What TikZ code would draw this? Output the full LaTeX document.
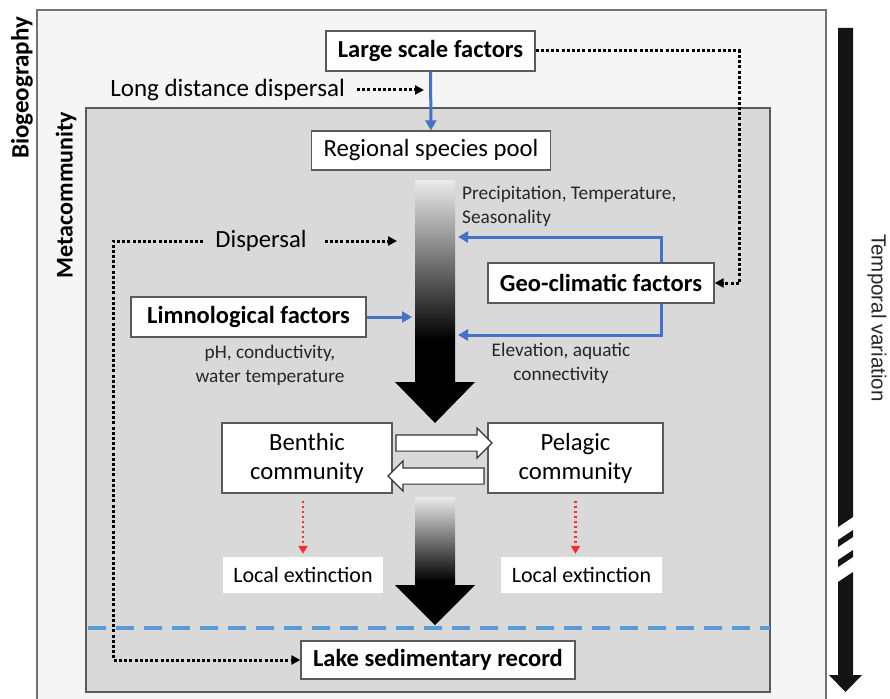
\documentclass[tikz,border=0pt]{standalone}
\usepackage{fontspec}
\setmainfont{Carlito}
\newfontfamily\arialfont{Liberation Sans}
\usetikzlibrary{arrows.meta,shapes.arrows,calc}

\definecolor{bioback}{HTML}{F5F5F5}
\definecolor{metaback}{HTML}{D9D9D9}
\definecolor{boxline}{HTML}{5A5A5A}
\definecolor{factorblue}{HTML}{4472C4}
\definecolor{lakeblue}{HTML}{5B9BD5}
\definecolor{lossred}{HTML}{FF2A2A}
\definecolor{notegray}{HTML}{262626}

\pgfdeclareverticalshading{flowshade}{100bp}{color(0bp)=(black); color(42bp)=(black); color(75bp)=(black!8); color(100bp)=(black!8)}

\tikzset{
	factorbox/.style={draw=boxline, line width=1.3pt, fill=white, inner sep=0pt, font=\bfseries\fontsize{24.5}{29}\selectfont},
	plainbox/.style={draw=boxline, line width=1.3pt, fill=white, inner sep=0pt, align=center, font=\fontsize{24.7}{29}\selectfont},
	lossbox/.style={fill=white, inner sep=0pt, font=\fontsize{22}{26}\selectfont},
	note/.style={inner sep=0pt, text=notegray, font=\fontsize{19.3}{24}\selectfont},
	bluearrow/.style={factorblue, line width=3pt, -{Triangle[length=10pt,width=11pt]}},
	dotarrow/.style={black, line width=3pt, dash pattern=on 3pt off 2.2pt, -{Triangle[length=9pt,width=9pt]}},
	lossarrow/.style={lossred, line width=2.8pt, dash pattern=on 2.8pt off 2.2pt, -{Triangle[length=8pt,width=9pt]}},
	hollowarrow/.style={single arrow, draw=black!80, line width=1.2pt, fill=white, inner xsep=0pt, inner ysep=7.5pt, single arrow head extend=7pt, single arrow head indent=0pt, minimum height=96pt}
}

\begin{document}
\begin{tikzpicture}[x=1pt, y=-1pt]
	\useasboundingbox (0,0) rectangle (890,698);
	% frames
	\draw[black!55, line width=1.8pt, fill=bioback] (37,10) rectangle (826,720);
	\draw[boxline, line width=1.8pt, fill=metaback] (86,108) rectangle (770,692);
	\node[rotate=90, inner sep=0pt, font=\bfseries\fontsize{25}{30}\selectfont] (bio) at (22,88) {Biogeography};
	\node[rotate=90, inner sep=0pt, font=\bfseries\fontsize{24}{29}\selectfont] (meta) at (66,195) {Metacommunity};

	% flow arrows
	\shade[shading=flowshade] (415,180) -- (455,180) -- (455,382) -- (475,382) -- (435,423) -- (395,382) -- (415,382) -- cycle;
	\shade[shading=flowshade] (415,497) -- (455,497) -- (455,585) -- (475,585) -- (435,625) -- (395,585) -- (415,585) -- cycle;
	\coordinate (poolentry) at (424,90);
	\coordinate (flowtopL) at (397,241);
	\coordinate (flowtopR) at (458,237);
	\coordinate (flowmidL) at (412,317);
	\coordinate (flowmidR) at (458,335);

	% boxes
	\node[factorbox, minimum width=209pt, minimum height=40pt] (large) at (430.5,51) {Large scale factors};
	\node[plainbox, minimum width=239pt, minimum height=39pt] (pool) at (431,150.5) {Regional species pool};
	\node[factorbox, minimum width=226pt, minimum height=40pt] (geo) at (601,283) {Geo-climatic factors};
	\node[factorbox, minimum width=235pt, minimum height=40pt] (limno) at (248.5,317) {Limnological factors};
	\node[plainbox, minimum width=170pt, minimum height=70pt] (benthic) at (307,458) {Benthic\\community};
	\node[plainbox, minimum width=175pt, minimum height=70pt] (pelagic) at (575.5,458) {Pelagic\\community};
	\node[lossbox, minimum width=160pt, minimum height=36pt] (loss1) at (303,575) {Local extinction};
	\node[lossbox, minimum width=161pt, minimum height=36pt] (loss2) at (581.5,575) {Local extinction};
	\node[factorbox, minimum width=274pt, minimum height=38pt] (lake) at (438,660) {Lake sedimentary record};

	% labels
	\node[inner sep=0pt, anchor=east, font=\fontsize{25}{29}\selectfont] (longdisp) at (345,90) {Long distance dispersal};
	\node[inner sep=0pt, font=\fontsize{24.7}{29}\selectfont] (disp) at (261,241) {Dispersal};
	\node[note, anchor=north west, align=left] (climnote) at (462,186) {Precipitation, Temperature,\\Seasonality};
	\node[note, align=center] (limnote) at (270,365) {pH, conductivity,\\water temperature};
	\node[note, align=center] (geonote) at (561,363) {Elevation, aquatic\\connectivity};
	\node[rotate=-90, inner sep=0pt, text=notegray, font=\arialfont\fontsize{20.5}{24}\selectfont] (temporal) at (877,318) {Temporal variation};

	% connectors
	\draw[bluearrow] (large) -- (pool);
	\draw[bluearrow] ([xshift=60pt]geo.north) |- (flowtopR);
	\draw[bluearrow] ([xshift=60pt]geo.south) |- (flowmidR);
	\draw[bluearrow] (limno) -- (flowmidL);
	\draw[dotarrow, shorten <=12pt] (longdisp.east) -- (poolentry);
	\draw[dotarrow] (large.east) -- ++(204,0) |- (geo.east);
	\draw[dotarrow, shorten <=18pt] (disp.east) -- (flowtopL);
	\draw[dotarrow, shorten <=12pt] (disp.west) -- ++(-102,0) |- (lake.west);
	\draw[lossarrow, shorten <=7pt, shorten >=3pt] (loss1.north |- benthic.south) -- (loss1);
	\draw[lossarrow, shorten <=7pt, shorten >=3pt] (pelagic.south) -- (pelagic.south |- loss2.north);
	\node[hollowarrow] (bentopel) at ($(benthic.east)!0.5!(pelagic.west)+(0,-15)$) {};
	\node[hollowarrow, shape border rotate=180] (peltoben) at ($(benthic.east)!0.5!(pelagic.west)+(0,18)$) {};

	% sediment surface
	\draw[lakeblue, line width=3.5pt, dash pattern=on 18pt off 10pt] (88,628) -- (770,628);

	% temporal axis
	\fill[black!92] (838,28) -- (853,28) -- (853,517) -- (838,527) -- cycle;
	\fill[black!92] (838,540) -- (853,530) -- (853,537) -- (838,547) -- cycle;
	\fill[black!92] (838,560) -- (853,550) -- (853,557) -- (838,567) -- cycle;
	\fill[black!92] (838,582) -- (853,572) -- (853,675) -- (862,675) -- (845.5,692) -- (829,675) -- (838,675) -- cycle;
\end{tikzpicture}
\end{document}
